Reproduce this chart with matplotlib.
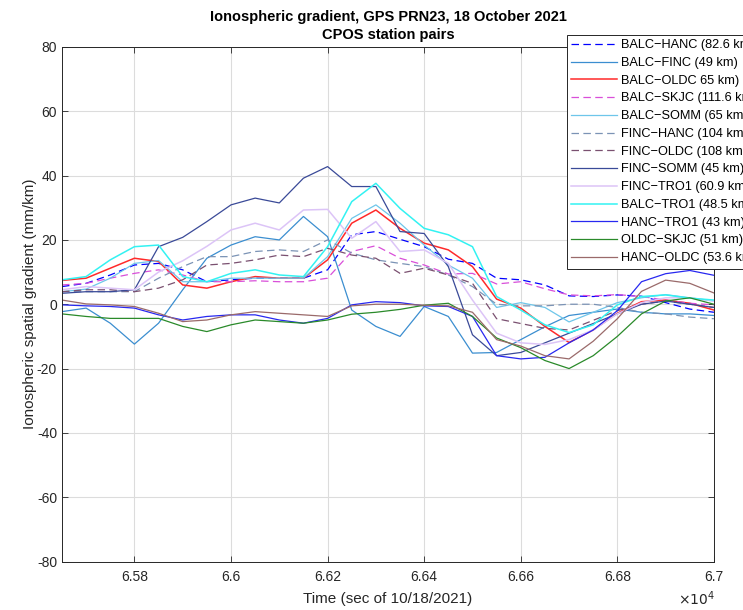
import numpy as np
import matplotlib
matplotlib.use("Agg")
import matplotlib.pyplot as plt

plt.rcParams['font.family'] = ['Liberation Sans', 'DejaVu Sans']
plt.rcParams['axes.unicode_minus'] = False

# time grid (sec of day), 50 s steps
t = np.arange(65650, 67001, 50)

# gradients (mm/km), one value per time step
balc_hanc = [5.5, 6.5, 9.1, 12.2, 12.7, 10.7, 7.0, 7.6, 8.1, 8.1, 8.1, 10.7, 21.6, 22.6,
             20.2, 17.9, 14.0, 12.7, 8.1, 7.6, 6.0, 2.6, 2.4, 2.9, 2.5, 0.5, -1.5, -2.5]
balc_finc = [-2.3, -1.2, -5.9, -12.4, -5.9, 4.5, 14.3, 18.4, 21.0, 20.0, 27.3, 21.0, -1.8, -6.9,
             -10.0, -0.7, -3.8, -15.2, -15.0, -11.0, -7.0, -3.5, -2.5, -1.5, -2.5, -3.0, -3.0, -3.5]
balc_oldc = [7.4, 8.1, 11.2, 14.3, 13.3, 6.0, 5.0, 7.0, 8.6, 8.1, 8.1, 13.8, 25.2, 29.3,
             23.6, 19.0, 16.9, 11.7, 1.6, -1.2, -6.9, -11.9, -8.0, -2.8, 0.8, 1.3, 0.3, -1.8]
balc_skjc = [6.0, 6.5, 8.1, 9.6, 10.7, 9.1, 7.0, 7.0, 7.3, 7.0, 7.0, 8.1, 16.4, 18.2,
             14.3, 12.2, 9.4, 9.6, 6.3, 7.0, 4.8, 2.9, 2.6, 3.0, 2.4, 1.3, 0.3, -0.2]
balc_somm = [3.9, 4.7, 8.1, 12.7, 13.6, 7.0, 7.0, 8.1, 8.1, 8.1, 8.1, 14.8, 26.7, 30.9,
             25.2, 18.4, 12.2, 8.1, -1.0, 0.5, -1.0, -5.5, -2.5, 0.5, 2.0, 3.0, 2.0, 1.0]
finc_hanc = [3.9, 3.9, 3.9, 3.9, 8.1, 11.7, 14.8, 14.8, 16.4, 16.9, 16.4, 20.0, 15.9, 13.8,
             12.7, 11.7, 9.1, 5.5, 0.0, -0.5, -0.5, 0.0, 0.0, -1.0, -2.5, -3.0, -4.0, -4.5]
finc_oldc = [3.9, 4.5, 4.5, 3.9, 5.0, 7.6, 12.2, 12.7, 13.8, 15.3, 14.8, 17.4, 15.3, 14.3,
             9.6, 11.2, 9.1, 6.5, -4.5, -6.0, -7.5, -8.0, -5.0, -2.0, 0.0, 1.0, 0.0, -1.0]
finc_somm = [3.4, 3.9, 3.9, 4.5, 17.9, 20.8, 25.7, 30.9, 33.0, 31.5, 39.2, 42.8, 36.6, 36.6,
             22.6, 22.0, 11.7, -9.5, -16.0, -15.0, -12.0, -9.0, -6.0, -3.0, 0.0, 1.0, 0.0, -1.0]
finc_tro1 = [4.5, 5.5, 5.0, 4.5, 10.0, 13.5, 18.0, 23.1, 25.2, 23.1, 29.3, 29.5, 20.5, 25.7,
             16.4, 16.9, 12.7, 1.3, -9.0, -12.0, -12.5, -11.0, -8.0, -3.0, 0.5, 2.0, 2.0, 1.0]
balc_tro1 = [7.6, 8.6, 13.8, 17.9, 18.4, 8.6, 7.0, 9.6, 10.7, 9.1, 8.6, 17.9, 31.9, 37.6,
             29.8, 23.6, 21.6, 17.9, 2.4, -1.8, -6.4, -8.8, -6.4, -0.2, 2.4, 2.9, 1.9, 1.3]
hanc_tro1 = [-0.2, -0.5, -0.7, -1.2, -3.3, -4.9, -3.8, -3.3, -3.3, -4.9, -5.9, -4.4, -0.2, 0.8,
             0.5, -0.5, -0.7, -3.8, -16.0, -17.0, -16.5, -12.0, -8.0, -2.0, 7.0, 9.5, 10.5, 9.0]
oldc_skjc = [-3.0, -3.8, -4.4, -4.4, -4.4, -6.9, -8.5, -6.4, -4.9, -5.4, -5.9, -4.9, -3.1, -2.5,
             -1.6, -0.3, 0.3, -3.8, -10.5, -13.5, -17.5, -20.0, -16.0, -10.0, -3.0, 1.0, 2.0, 0.0]
hanc_oldc = [1.3, 0.1, -0.2, -0.7, -2.8, -5.4, -4.9, -3.3, -2.3, -2.8, -3.3, -3.8, -0.5, 0.0,
             0.0, -0.3, -0.5, -2.5, -11.0, -13.0, -16.0, -17.0, -11.5, -4.5, 4.0, 7.5, 6.5, 3.5]

series = [
    ('BALC\u2212HANC (82.6 km)', balc_hanc, '#0000ff', '--', 0.9),
    ('BALC\u2212FINC (49 km)', balc_finc, '#3b8ed0', '-', 0.9),
    ('BALC\u2212OLDC 65 km)', balc_oldc, '#ff2a2a', '-', 1.1),
    ('BALC\u2212SKJC (111.6 km)', balc_skjc, '#d94fd9', '--', 0.9),
    ('BALC\u2212SOMM (65 km)', balc_somm, '#6ec6ea', '-', 0.9),
    ('FINC\u2212HANC (104 km)', finc_hanc, '#7b93b5', '--', 0.9),
    ('FINC\u2212OLDC (108 km)', finc_oldc, '#7a5070', '--', 0.9),
    ('FINC\u2212SOMM (45 km)', finc_somm, '#3a4a98', '-', 0.9),
    ('FINC\u2212TRO1 (60.9 km)', finc_tro1, '#dcc4f7', '-', 1.1),
    ('BALC\u2212TRO1 (48.5 km)', balc_tro1, '#33f2f2', '-', 1.1),
    ('HANC\u2212TRO1 (43 km)', hanc_tro1, '#2828f0', '-', 0.9),
    ('OLDC\u2212SKJC (51 km)', oldc_skjc, '#2a8a2a', '-', 0.9),
    ('HANC\u2212OLDC (53.6 km)', hanc_oldc, '#9a6a6a', '-', 0.9),
]

xticks = [65800, 66000, 66200, 66400, 66600, 66800, 67000]
xticklabels = ['6.58', '6.6', '6.62', '6.64', '6.66', '6.68', '6.7']
yticks = list(range(-80, 81, 20))

fig = plt.figure(figsize=(7.43, 6.10), dpi=100)
ax = fig.add_axes([0.0834, 0.0795, 0.8775, 0.8435])

for label, vals, col, ls, lw in series:
    ax.plot(t, vals, color=col, ls=ls, lw=lw, label=label,
            dashes=(6, 3.5) if ls == '--' else (None, None))

ax.set_xlim(65650, 67000)
ax.set_ylim(-80, 80)
ax.set_xticks(xticks)
ax.set_xticklabels(xticklabels)
ax.set_yticks(yticks)
ax.grid(True, color='#dcdcdc', lw=0.8)
ax.set_axisbelow(True)
ax.tick_params(direction='in', top=True, right=True, labelsize=10,
               colors='#262626', length=4, width=0.6)
ax.tick_params(axis='x', pad=6)
for sp in ax.spines.values():
    sp.set_color('#262626')
    sp.set_linewidth(0.7)

ax.set_xlabel('Time (sec of 10/18/2021)', fontsize=11, color='#262626', labelpad=6)
ax.set_ylabel('Ionospheric spatial gradient (mm/km)', fontsize=11, color='#262626', labelpad=0)
ax.set_title('Ionospheric gradient, GPS PRN23, 18 October 2021\nCPOS station pairs',
             fontsize=10.5, fontweight='bold', color='black', pad=6, linespacing=1.35)
fig.text(0.912, 0.008, r'$\times 10^{4}$', fontsize=10, color='#262626', ha='left')

leg = fig.legend(loc='upper left', bbox_to_anchor=(0.763, 0.943), fontsize=9.2,
                 frameon=True, fancybox=False, edgecolor='#262626', framealpha=1,
                 handlelength=3.6, handletextpad=0.3, labelspacing=0.45,
                 borderpad=0.35, borderaxespad=0)
leg.get_frame().set_linewidth(0.7)

fig.savefig('out.png', dpi=100)
